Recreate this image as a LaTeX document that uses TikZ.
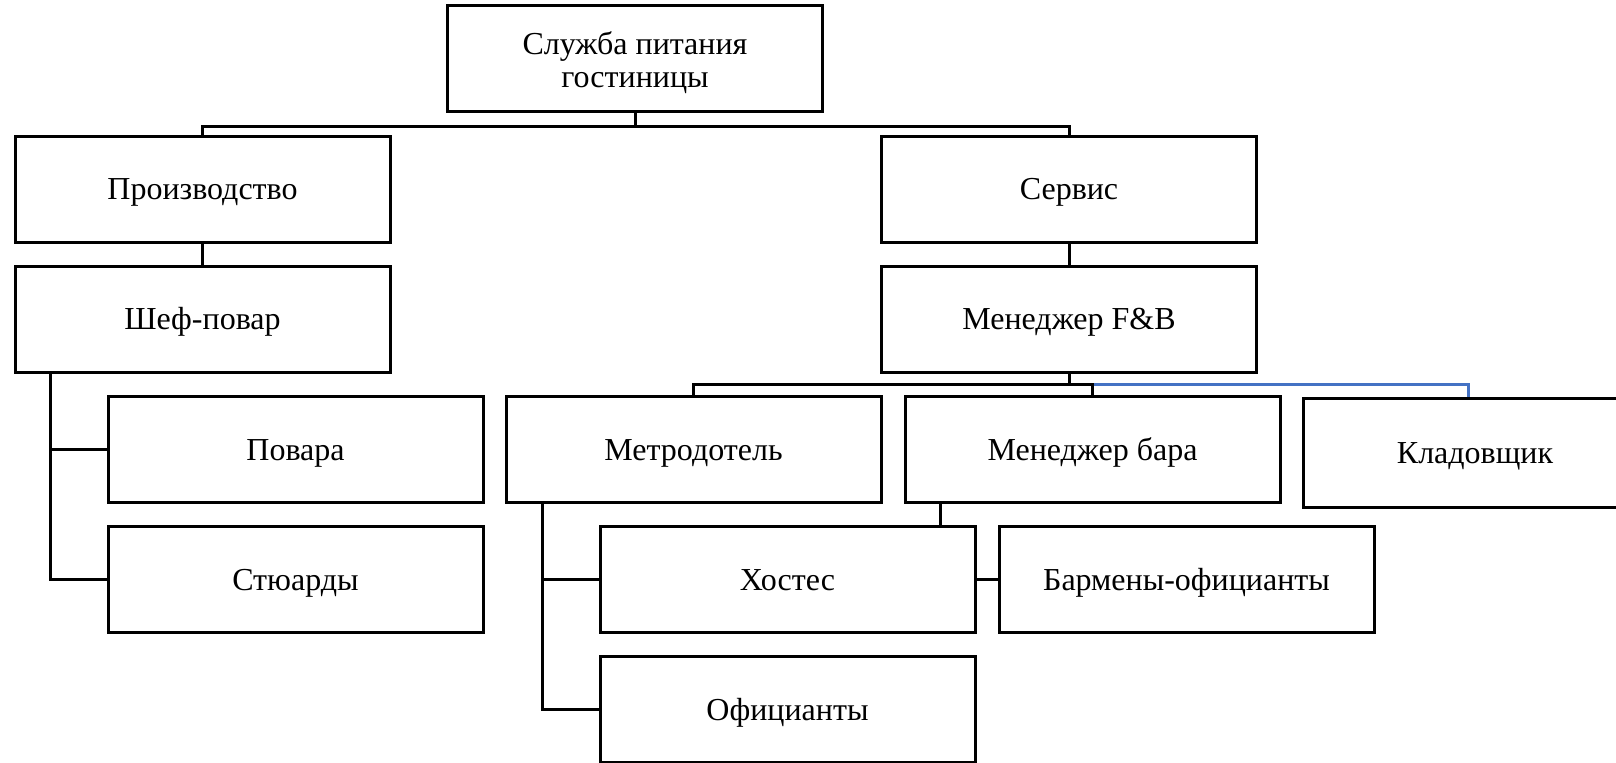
\documentclass[tikz,border=0pt]{standalone}
\usepackage{fontspec}
\setmainfont{Liberation Serif}
\definecolor{linkblue}{HTML}{4472C4}
\begin{document}
\begin{tikzpicture}[x = .5pt, y = -.5pt,
	unit/.style = {draw, line width = 1.5pt, minimum width = 187.5pt, minimum height = 53pt, inner sep = 0pt, align = center, font = \fontsize{16}{16.5}\selectfont, execute at begin node = \rule[-4pt]{0pt}{18.5pt}},
	link/.style = {line width = 1.5pt}]
	\useasboundingbox (0,0) rectangle (1616,762);
	\clip (0,0) rectangle (1616,762);
	\node[unit, text height = 31pt, text depth = 2pt] (sluzhba) at (635,58) {Служба питания\\гостиницы};
	\node[unit] (proizv) at (202.5,189) {Производство};
	\node[unit] (servis) at (1069,189) {Сервис};
	\node[unit] (shef) at (202.5,319) {Шеф-повар};
	\node[unit] (menfb) at (1069,319) {Менеджер F\&B};
	\node[unit] (povara) at (295.5,449.5) {Повара};
	\node[unit] (styuard) at (295.5,579.5) {Стюарды};
	\node[unit] (metr) at (693.5,449.5) {Метродотель};
	\node[unit] (menbar) at (1092.5,449.5) {Менеджер бара};
	\node[unit, minimum width = 172pt, minimum height = 54.5pt] (klad) at (1475,452.5) {Кладовщик};
	\node[unit] (hostes) at (787.5,579.5) {Хостес};
	\node[unit] (barmen) at (1186.5,579.5) {Бармены-официанты};
	\node[unit] (ofic) at (787.5,709.5) {Официанты};
	\coordinate (bus1) at (0,126); %upper bar
	\coordinate (bus2) at (0,384); %F&B bar
	\coordinate (shefleg) at ([xshift = 18.25pt]shef.south west);
	\coordinate (metrleg) at ([xshift = 19pt]metr.south west);
	\coordinate (barleg) at ([xshift = 18.5pt]menbar.south west);
	\coordinate (kladtop) at ([xshift = -3.5pt]klad.north);
	\draw[link] (sluzhba.south) -- (sluzhba.south |- bus1);
	\draw[link] (proizv.north) |- (servis.north |- bus1) -- (servis.north);
	\draw[link] (proizv.south) -- (shef.north);
	\draw[link] (servis.south) -- (menfb.north);
	\draw[link] (shefleg) |- (styuard.west);
	\draw[link] (shefleg |- povara.west) -- (povara.west);
	\draw[link, linkblue] (menbar.north |- bus2) -| (kladtop);
	\draw[link] (menfb.south) -- (menfb.south |- bus2);
	\draw[link] (metr.north) |- (menbar.north |- bus2) -- (menbar.north);
	\draw[link] (metrleg) |- (ofic.west);
	\draw[link] (metrleg |- hostes.west) -- (hostes.west);
	\draw[link] (barleg) -- (barleg |- hostes.north);
	\draw[link] (hostes.east) -- (barmen.west);
\end{tikzpicture}
\end{document}
